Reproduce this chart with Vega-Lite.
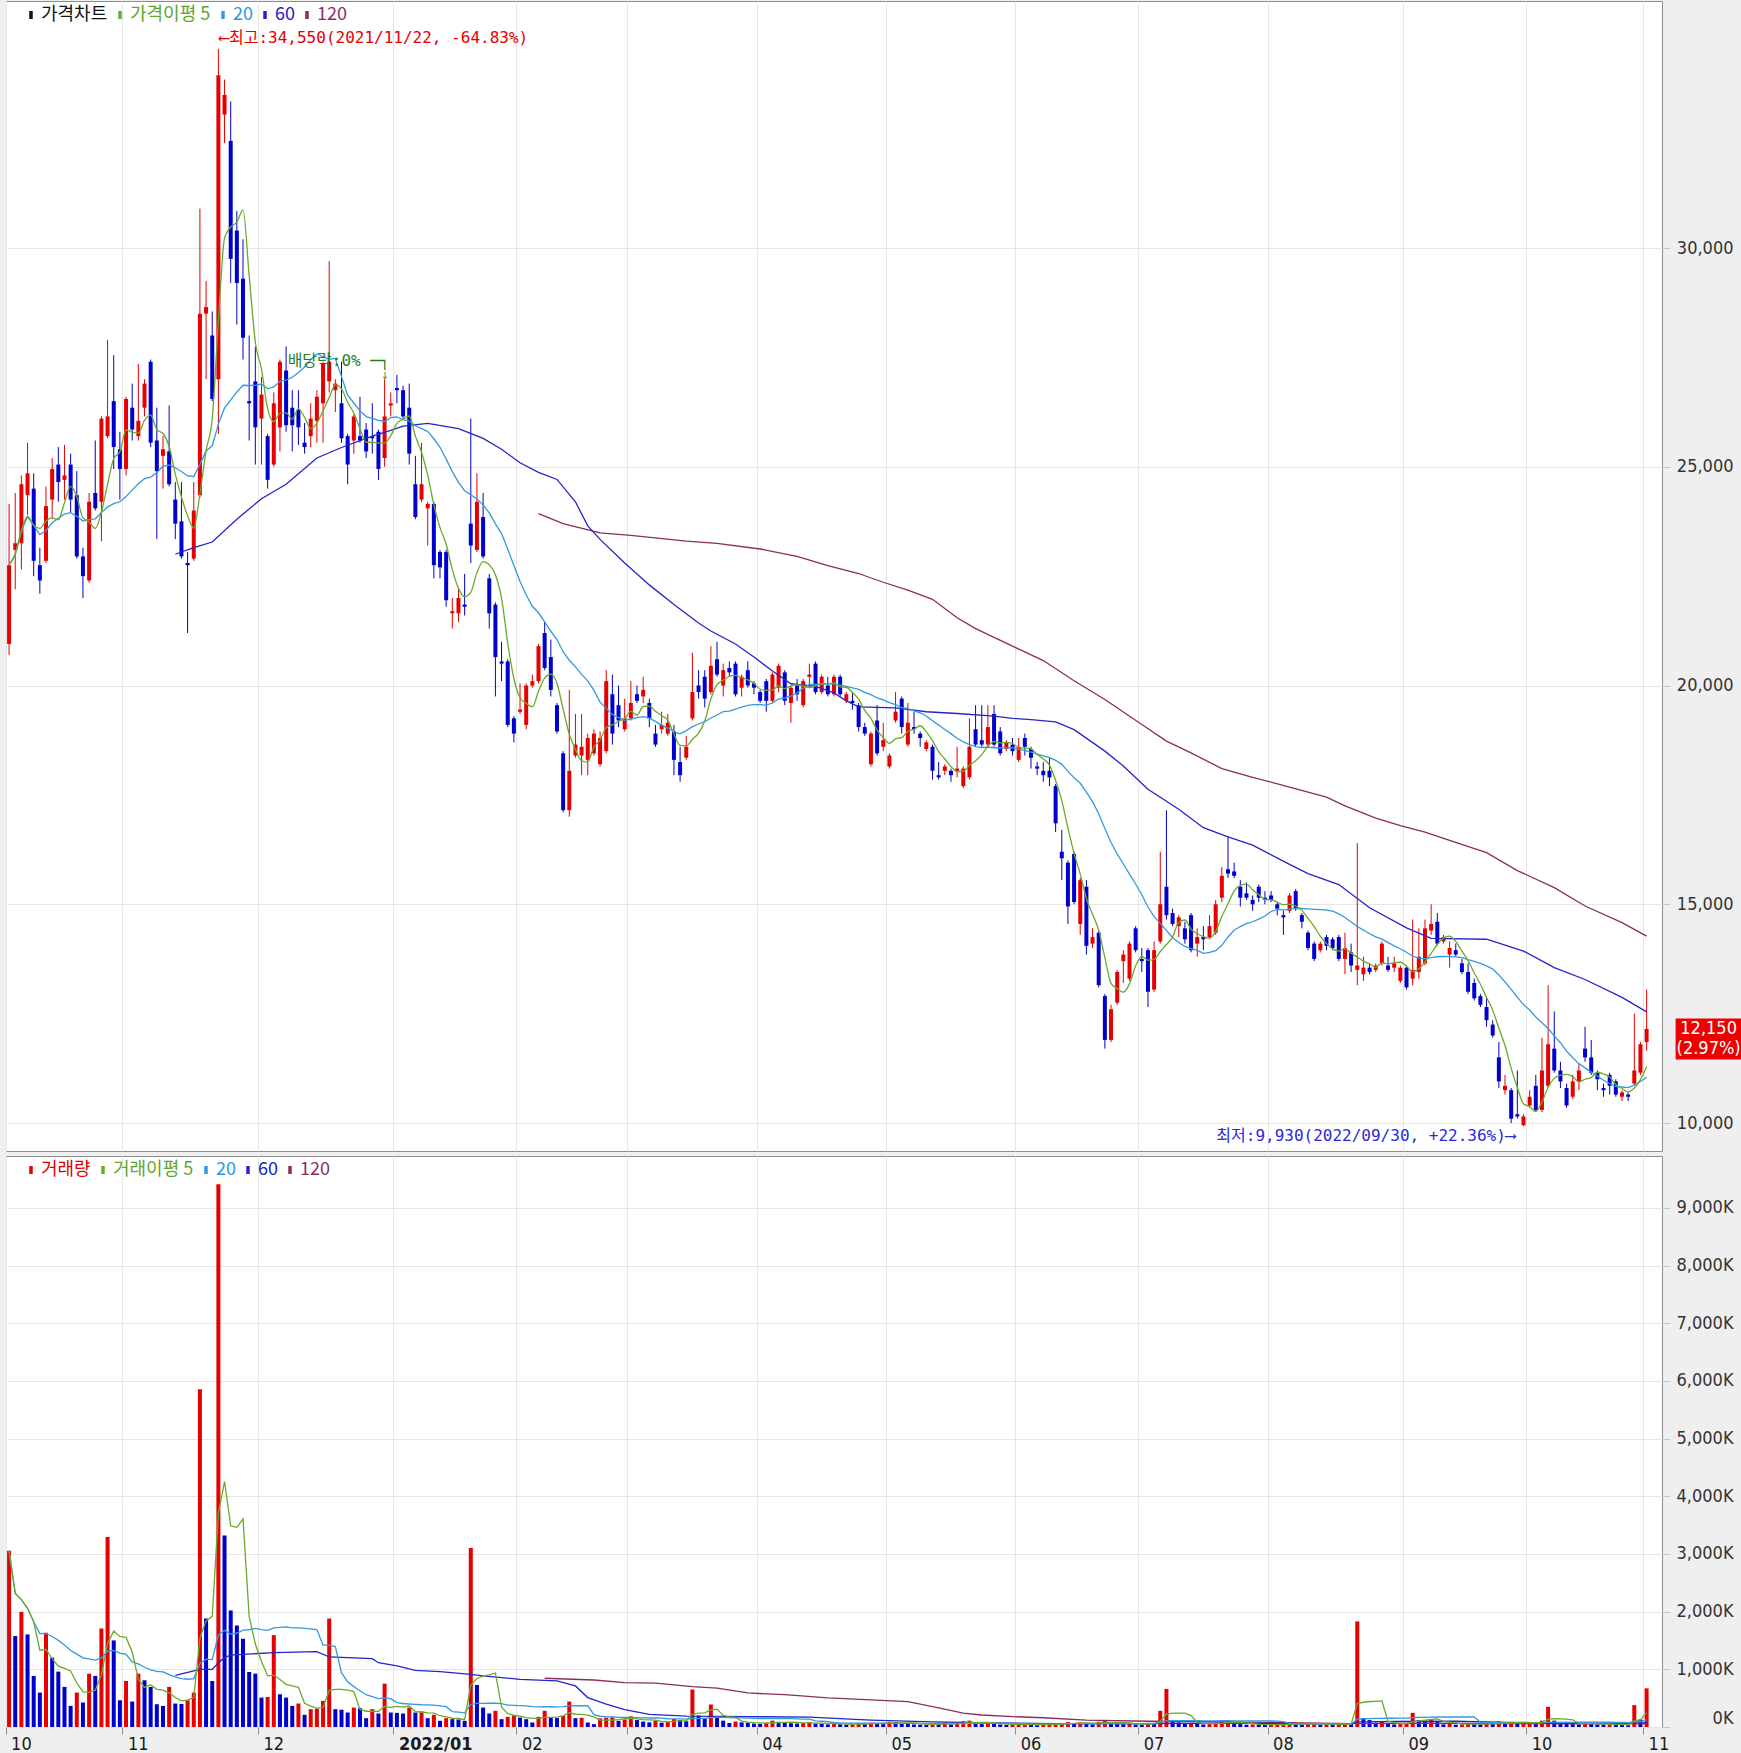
{
"$schema": "https://vega.github.io/schema/vega-lite/v6.json",
"background": "#efefef",
"padding": {"left": 5, "top": 0, "right": 10, "bottom": 0},
"spacing": 3,
"config": {
  "view": {"fill": "#ffffff", "stroke": "#8c8c8c", "strokeWidth": 1},
  "font": "Liberation Sans"
},
"datasets": {
"k": [
{"d":"2021-10-01","o":20950,"h":24150,"l":20700,"c":22750,"v":3056000},
{"d":"2021-10-05","o":23100,"h":24400,"l":22200,"c":23250,"v":1576000},
{"d":"2021-10-06","o":23250,"h":24800,"l":22650,"c":24600,"v":1997000},
{"d":"2021-10-07","o":24350,"h":25550,"l":23900,"c":24850,"v":1605000},
{"d":"2021-10-08","o":24500,"h":24850,"l":22500,"c":22850,"v":885000},
{"d":"2021-10-12","o":22750,"h":23150,"l":22100,"c":22400,"v":597000},
{"d":"2021-10-13","o":22850,"h":24550,"l":22800,"c":24100,"v":1634000},
{"d":"2021-10-14","o":24250,"h":25200,"l":23800,"c":24950,"v":1202000},
{"d":"2021-10-15","o":25050,"h":25450,"l":24200,"c":24650,"v":960000},
{"d":"2021-10-18","o":24700,"h":25500,"l":24250,"c":24800,"v":695000},
{"d":"2021-10-19","o":25050,"h":25300,"l":23950,"c":24250,"v":366000},
{"d":"2021-10-20","o":24350,"h":24900,"l":22900,"c":22950,"v":597000},
{"d":"2021-10-21","o":22950,"h":23150,"l":22000,"c":22500,"v":424000},
{"d":"2021-10-22","o":22400,"h":24400,"l":22350,"c":24200,"v":925000},
{"d":"2021-10-25","o":24400,"h":25600,"l":24000,"c":24050,"v":885000},
{"d":"2021-10-26","o":24200,"h":26150,"l":23300,"c":26100,"v":1708000},
{"d":"2021-10-27","o":25700,"h":27900,"l":25650,"c":26150,"v":3293000},
{"d":"2021-10-28","o":26500,"h":27550,"l":24950,"c":25450,"v":1501000},
{"d":"2021-10-29","o":25400,"h":25800,"l":24250,"c":24950,"v":464000},
{"d":"2021-11-01","o":24950,"h":26600,"l":24800,"c":26550,"v":798000},
{"d":"2021-11-02","o":26350,"h":26900,"l":25600,"c":25850,"v":441000},
{"d":"2021-11-03","o":25700,"h":27350,"l":25600,"c":26050,"v":925000},
{"d":"2021-11-04","o":26350,"h":27000,"l":26150,"c":26900,"v":810000},
{"d":"2021-11-05","o":27400,"h":27450,"l":25450,"c":25550,"v":695000},
{"d":"2021-11-08","o":25600,"h":26350,"l":23350,"c":24900,"v":395000},
{"d":"2021-11-09","o":25250,"h":25700,"l":24500,"c":25400,"v":366000},
{"d":"2021-11-10","o":25350,"h":26400,"l":24550,"c":24600,"v":695000},
{"d":"2021-11-11","o":24250,"h":24650,"l":23350,"c":23700,"v":407000},
{"d":"2021-11-12","o":23750,"h":24650,"l":22900,"c":22950,"v":400000},
{"d":"2021-11-15","o":22800,"h":23050,"l":21200,"c":22750,"v":464000},
{"d":"2021-11-16","o":22900,"h":24650,"l":22850,"c":24000,"v":597000},
{"d":"2021-11-17","o":24350,"h":30900,"l":24300,"c":28500,"v":5856000},
{"d":"2021-11-18","o":28500,"h":29250,"l":27000,"c":28650,"v":1881000},
{"d":"2021-11-19","o":28000,"h":28550,"l":26500,"c":26550,"v":798000},
{"d":"2021-11-22","o":27000,"h":34550,"l":25750,"c":33950,"v":9410000},
{"d":"2021-11-23","o":33050,"h":33850,"l":32400,"c":33500,"v":3321000},
{"d":"2021-11-24","o":32450,"h":33350,"l":29200,"c":29750,"v":2021000},
{"d":"2021-11-25","o":30400,"h":30850,"l":28250,"c":29200,"v":1760000},
{"d":"2021-11-26","o":29300,"h":30200,"l":27450,"c":27950,"v":1530000},
{"d":"2021-11-29","o":26500,"h":28000,"l":25600,"c":26450,"v":954000},
{"d":"2021-11-30","o":26950,"h":27750,"l":25050,"c":25900,"v":925000},
{"d":"2021-12-01","o":26100,"h":27050,"l":25050,"c":26650,"v":510000},
{"d":"2021-12-02","o":25700,"h":25750,"l":24500,"c":24700,"v":520000},
{"d":"2021-12-03","o":25050,"h":26700,"l":25000,"c":26450,"v":1593000},
{"d":"2021-12-06","o":25900,"h":27450,"l":25350,"c":27400,"v":568000},
{"d":"2021-12-07","o":27200,"h":27750,"l":25800,"c":25950,"v":510000},
{"d":"2021-12-08","o":26350,"h":26750,"l":25350,"c":25950,"v":366000},
{"d":"2021-12-09","o":26300,"h":26750,"l":25500,"c":25900,"v":407000},
{"d":"2021-12-10","o":25550,"h":26000,"l":25300,"c":25450,"v":211000},
{"d":"2021-12-13","o":25700,"h":26450,"l":25450,"c":26100,"v":309000},
{"d":"2021-12-14","o":26050,"h":26750,"l":25550,"c":26600,"v":315000},
{"d":"2021-12-15","o":26450,"h":27400,"l":25550,"c":27350,"v":453000},
{"d":"2021-12-16","o":26950,"h":29700,"l":26700,"c":27400,"v":1881000},
{"d":"2021-12-17","o":26750,"h":27000,"l":26250,"c":26900,"v":309000},
{"d":"2021-12-20","o":26450,"h":27400,"l":25550,"c":25650,"v":300000},
{"d":"2021-12-21","o":25700,"h":25750,"l":24600,"c":25050,"v":251000},
{"d":"2021-12-22","o":25600,"h":26200,"l":25300,"c":26150,"v":337000},
{"d":"2021-12-23","o":25700,"h":26600,"l":25550,"c":25600,"v":326000},
{"d":"2021-12-24","o":25850,"h":26000,"l":25200,"c":25350,"v":153000},
{"d":"2021-12-27","o":25700,"h":26450,"l":25300,"c":25650,"v":309000},
{"d":"2021-12-28","o":25800,"h":25850,"l":24700,"c":24950,"v":234000},
{"d":"2021-12-29","o":25200,"h":27000,"l":25000,"c":26150,"v":752000},
{"d":"2021-12-30","o":26400,"h":26700,"l":26150,"c":26450,"v":251000},
{"d":"2022-01-03","o":26800,"h":27100,"l":26450,"c":26750,"v":245000},
{"d":"2022-01-04","o":26750,"h":26850,"l":26100,"c":26150,"v":234000},
{"d":"2022-01-05","o":26350,"h":26900,"l":25050,"c":25300,"v":337000},
{"d":"2022-01-06","o":24600,"h":25250,"l":23800,"c":23850,"v":251000},
{"d":"2022-01-07","o":24250,"h":25550,"l":24200,"c":24600,"v":255000},
{"d":"2022-01-10","o":24050,"h":24200,"l":23200,"c":24150,"v":153000},
{"d":"2022-01-11","o":24150,"h":24200,"l":22450,"c":22750,"v":211000},
{"d":"2022-01-12","o":23050,"h":23100,"l":22450,"c":22700,"v":107000},
{"d":"2022-01-13","o":23050,"h":23100,"l":21800,"c":21950,"v":153000},
{"d":"2022-01-14","o":21650,"h":22000,"l":21300,"c":21700,"v":136000},
{"d":"2022-01-17","o":21650,"h":22200,"l":21450,"c":22000,"v":130000},
{"d":"2022-01-18","o":21850,"h":22550,"l":21600,"c":21800,"v":107000},
{"d":"2022-01-19","o":23700,"h":26100,"l":22800,"c":23200,"v":3103000},
{"d":"2022-01-20","o":23100,"h":24850,"l":23050,"c":24200,"v":729000},
{"d":"2022-01-21","o":23850,"h":24400,"l":22900,"c":22950,"v":337000},
{"d":"2022-01-24","o":22450,"h":22550,"l":21300,"c":21650,"v":234000},
{"d":"2022-01-25","o":21850,"h":21900,"l":19750,"c":20650,"v":280000},
{"d":"2022-01-26","o":20550,"h":21000,"l":20100,"c":20500,"v":136000},
{"d":"2022-01-27","o":20550,"h":20600,"l":19050,"c":19100,"v":176000},
{"d":"2022-01-28","o":19250,"h":19300,"l":18700,"c":18900,"v":193000},
{"d":"2022-02-03","o":19400,"h":20050,"l":19350,"c":19450,"v":164000},
{"d":"2022-02-04","o":19100,"h":20050,"l":19000,"c":20000,"v":136000},
{"d":"2022-02-07","o":20000,"h":20250,"l":19950,"c":20100,"v":78000},
{"d":"2022-02-08","o":20100,"h":20950,"l":20050,"c":20900,"v":176000},
{"d":"2022-02-09","o":21200,"h":21450,"l":20350,"c":20400,"v":280000},
{"d":"2022-02-10","o":20650,"h":21050,"l":19750,"c":19900,"v":164000},
{"d":"2022-02-11","o":19550,"h":19600,"l":18900,"c":18950,"v":155000},
{"d":"2022-02-14","o":18450,"h":18500,"l":17100,"c":17150,"v":193000},
{"d":"2022-02-15","o":17150,"h":19900,"l":17000,"c":18050,"v":441000},
{"d":"2022-02-16","o":18400,"h":19350,"l":18350,"c":18650,"v":153000},
{"d":"2022-02-17","o":18400,"h":19350,"l":17950,"c":18600,"v":160000},
{"d":"2022-02-18","o":18300,"h":18900,"l":17950,"c":18800,"v":78000},
{"d":"2022-02-21","o":18450,"h":19000,"l":18400,"c":18900,"v":49000},
{"d":"2022-02-22","o":18200,"h":18950,"l":18150,"c":18800,"v":150000},
{"d":"2022-02-23","o":18500,"h":20350,"l":18450,"c":20100,"v":160000},
{"d":"2022-02-24","o":19800,"h":20250,"l":18650,"c":18900,"v":170000},
{"d":"2022-02-25","o":19550,"h":20000,"l":19050,"c":19200,"v":107000},
{"d":"2022-02-28","o":19000,"h":19700,"l":18950,"c":19250,"v":130000},
{"d":"2022-03-02","o":19250,"h":20100,"l":19200,"c":19600,"v":185000},
{"d":"2022-03-03","o":19800,"h":20000,"l":19600,"c":19650,"v":120000},
{"d":"2022-03-04","o":19750,"h":20200,"l":19600,"c":19900,"v":95000},
{"d":"2022-03-07","o":19600,"h":19700,"l":19050,"c":19250,"v":80000},
{"d":"2022-03-08","o":18900,"h":19100,"l":18600,"c":18650,"v":110000},
{"d":"2022-03-10","o":19000,"h":19400,"l":18900,"c":19100,"v":75000},
{"d":"2022-03-11","o":18900,"h":19350,"l":18850,"c":19150,"v":90000},
{"d":"2022-03-14","o":18950,"h":19100,"l":17950,"c":18300,"v":140000},
{"d":"2022-03-15","o":18250,"h":18600,"l":17800,"c":17950,"v":120000},
{"d":"2022-03-16","o":18350,"h":18850,"l":18300,"c":18600,"v":100000},
{"d":"2022-03-17","o":19250,"h":20750,"l":19200,"c":19850,"v":650000},
{"d":"2022-03-18","o":20000,"h":20350,"l":19700,"c":19850,"v":200000},
{"d":"2022-03-21","o":20200,"h":20350,"l":19500,"c":19700,"v":150000},
{"d":"2022-03-22","o":19850,"h":20900,"l":19800,"c":20450,"v":390000},
{"d":"2022-03-23","o":20600,"h":21000,"l":20200,"c":20250,"v":160000},
{"d":"2022-03-24","o":20000,"h":20500,"l":19750,"c":20350,"v":110000},
{"d":"2022-03-25","o":20400,"h":20550,"l":20200,"c":20300,"v":70000},
{"d":"2022-03-28","o":20500,"h":20550,"l":19750,"c":19800,"v":95000},
{"d":"2022-03-29","o":19950,"h":20250,"l":19750,"c":20200,"v":80000},
{"d":"2022-03-30","o":20350,"h":20550,"l":19950,"c":20000,"v":75000},
{"d":"2022-03-31","o":20050,"h":20100,"l":19800,"c":19950,"v":60000},
{"d":"2022-04-01","o":19850,"h":19900,"l":19600,"c":19650,"v":55000},
{"d":"2022-04-04","o":20100,"h":20150,"l":19400,"c":19650,"v":70000},
{"d":"2022-04-05","o":19650,"h":20300,"l":19600,"c":20250,"v":110000},
{"d":"2022-04-06","o":19950,"h":20500,"l":19850,"c":20450,"v":90000},
{"d":"2022-04-07","o":20300,"h":20350,"l":19550,"c":19650,"v":80000},
{"d":"2022-04-08","o":19600,"h":20000,"l":19150,"c":19950,"v":65000},
{"d":"2022-04-11","o":20000,"h":20150,"l":19650,"c":19800,"v":60000},
{"d":"2022-04-12","o":19550,"h":20150,"l":19500,"c":20100,"v":70000},
{"d":"2022-04-13","o":20200,"h":20500,"l":19950,"c":20250,"v":85000},
{"d":"2022-04-14","o":20500,"h":20550,"l":19800,"c":19850,"v":60000},
{"d":"2022-04-15","o":19850,"h":20250,"l":19800,"c":20200,"v":55000},
{"d":"2022-04-18","o":20000,"h":20200,"l":19750,"c":19800,"v":45000},
{"d":"2022-04-19","o":19800,"h":20250,"l":19750,"c":20200,"v":60000},
{"d":"2022-04-20","o":20200,"h":20250,"l":19750,"c":19800,"v":50000},
{"d":"2022-04-21","o":19650,"h":19850,"l":19600,"c":19800,"v":40000},
{"d":"2022-04-22","o":19650,"h":19850,"l":19450,"c":19600,"v":45000},
{"d":"2022-04-25","o":19550,"h":19600,"l":18950,"c":19050,"v":70000},
{"d":"2022-04-26","o":19050,"h":19150,"l":18850,"c":18900,"v":55000},
{"d":"2022-04-27","o":18200,"h":18950,"l":18150,"c":18900,"v":75000},
{"d":"2022-04-28","o":19200,"h":19550,"l":18400,"c":18450,"v":60000},
{"d":"2022-04-29","o":18600,"h":19150,"l":18500,"c":18750,"v":50000},
{"d":"2022-05-02","o":18150,"h":18450,"l":18100,"c":18400,"v":90000},
{"d":"2022-05-03","o":19200,"h":19850,"l":19150,"c":19400,"v":85000},
{"d":"2022-05-04","o":19700,"h":19750,"l":18900,"c":19050,"v":70000},
{"d":"2022-05-06","o":18650,"h":19600,"l":18600,"c":19150,"v":60000},
{"d":"2022-05-09","o":19050,"h":19400,"l":18900,"c":19000,"v":45000},
{"d":"2022-05-10","o":18900,"h":18950,"l":18600,"c":18800,"v":40000},
{"d":"2022-05-11","o":18550,"h":18750,"l":18500,"c":18700,"v":35000},
{"d":"2022-05-12","o":18600,"h":18650,"l":17850,"c":18050,"v":60000},
{"d":"2022-05-13","o":17950,"h":18250,"l":17850,"c":17900,"v":50000},
{"d":"2022-05-16","o":18050,"h":18200,"l":17950,"c":18150,"v":80000},
{"d":"2022-05-17","o":18050,"h":18100,"l":17800,"c":17950,"v":45000},
{"d":"2022-05-18","o":18050,"h":18600,"l":17900,"c":18100,"v":55000},
{"d":"2022-05-19","o":17700,"h":18150,"l":17650,"c":18100,"v":100000},
{"d":"2022-05-20","o":17900,"h":19250,"l":17850,"c":18600,"v":110000},
{"d":"2022-05-23","o":19000,"h":19550,"l":18600,"c":18650,"v":75000},
{"d":"2022-05-24","o":18750,"h":19550,"l":18600,"c":18650,"v":50000},
{"d":"2022-05-25","o":18650,"h":19550,"l":18600,"c":19050,"v":60000},
{"d":"2022-05-26","o":19350,"h":19550,"l":18600,"c":18650,"v":55000},
{"d":"2022-05-27","o":18950,"h":19050,"l":18400,"c":18450,"v":45000},
{"d":"2022-05-30","o":18550,"h":18750,"l":18500,"c":18700,"v":35000},
{"d":"2022-05-31","o":18650,"h":18800,"l":18400,"c":18500,"v":40000},
{"d":"2022-06-02","o":18300,"h":18800,"l":18250,"c":18600,"v":45000},
{"d":"2022-06-03","o":18800,"h":18900,"l":18400,"c":18600,"v":50000},
{"d":"2022-06-07","o":18550,"h":18600,"l":18100,"c":18350,"v":35000},
{"d":"2022-06-08","o":18150,"h":18250,"l":17950,"c":18100,"v":30000},
{"d":"2022-06-09","o":18050,"h":18250,"l":17800,"c":17950,"v":40000},
{"d":"2022-06-10","o":18050,"h":18350,"l":17700,"c":17900,"v":45000},
{"d":"2022-06-13","o":17700,"h":17750,"l":16650,"c":16850,"v":60000},
{"d":"2022-06-14","o":16200,"h":16700,"l":15550,"c":16050,"v":70000},
{"d":"2022-06-15","o":15950,"h":16000,"l":14550,"c":14950,"v":85000},
{"d":"2022-06-16","o":16150,"h":16200,"l":15000,"c":15050,"v":60000},
{"d":"2022-06-17","o":14550,"h":15600,"l":14300,"c":15550,"v":80000},
{"d":"2022-06-20","o":15400,"h":15550,"l":13850,"c":14050,"v":70000},
{"d":"2022-06-21","o":14100,"h":14450,"l":14000,"c":14250,"v":45000},
{"d":"2022-06-22","o":14350,"h":14400,"l":13100,"c":13150,"v":90000},
{"d":"2022-06-23","o":12900,"h":12950,"l":11700,"c":11900,"v":110000},
{"d":"2022-06-24","o":11900,"h":12700,"l":11850,"c":12600,"v":70000},
{"d":"2022-06-27","o":12750,"h":13500,"l":12700,"c":13450,"v":55000},
{"d":"2022-06-28","o":13700,"h":13950,"l":13200,"c":13850,"v":50000},
{"d":"2022-06-29","o":13300,"h":14150,"l":13250,"c":14100,"v":60000},
{"d":"2022-06-30","o":14450,"h":14500,"l":13900,"c":13950,"v":45000},
{"d":"2022-07-01","o":13750,"h":14000,"l":13450,"c":13700,"v":40000},
{"d":"2022-07-04","o":13950,"h":14000,"l":12650,"c":13000,"v":70000},
{"d":"2022-07-05","o":13050,"h":14150,"l":13000,"c":13950,"v":65000},
{"d":"2022-07-06","o":14150,"h":16200,"l":14100,"c":15000,"v":280000},
{"d":"2022-07-07","o":15400,"h":17150,"l":14650,"c":14750,"v":660000},
{"d":"2022-07-08","o":14800,"h":14900,"l":14500,"c":14550,"v":120000},
{"d":"2022-07-11","o":14500,"h":14750,"l":14250,"c":14700,"v":80000},
{"d":"2022-07-12","o":14450,"h":14600,"l":14100,"c":14200,"v":65000},
{"d":"2022-07-13","o":14750,"h":14800,"l":13900,"c":13950,"v":70000},
{"d":"2022-07-14","o":14100,"h":14450,"l":13800,"c":14250,"v":55000},
{"d":"2022-07-15","o":14250,"h":14500,"l":13950,"c":14200,"v":45000},
{"d":"2022-07-18","o":14250,"h":14750,"l":14200,"c":14500,"v":50000},
{"d":"2022-07-19","o":14350,"h":15100,"l":14300,"c":15000,"v":75000},
{"d":"2022-07-20","o":15150,"h":15850,"l":15050,"c":15650,"v":95000},
{"d":"2022-07-21","o":15800,"h":16550,"l":15600,"c":15700,"v":110000},
{"d":"2022-07-22","o":15750,"h":15950,"l":15600,"c":15650,"v":60000},
{"d":"2022-07-25","o":15400,"h":15550,"l":14950,"c":15150,"v":50000},
{"d":"2022-07-26","o":15250,"h":15500,"l":15100,"c":15150,"v":40000},
{"d":"2022-07-27","o":15100,"h":15200,"l":14850,"c":15000,"v":45000},
{"d":"2022-07-28","o":15400,"h":15450,"l":15050,"c":15150,"v":40000},
{"d":"2022-07-29","o":15150,"h":15300,"l":15000,"c":15100,"v":35000},
{"d":"2022-08-01","o":15200,"h":15300,"l":15050,"c":15100,"v":40000},
{"d":"2022-08-02","o":15000,"h":15050,"l":14750,"c":14900,"v":45000},
{"d":"2022-08-03","o":14750,"h":14850,"l":14300,"c":14700,"v":50000},
{"d":"2022-08-04","o":14850,"h":15250,"l":14800,"c":15200,"v":60000},
{"d":"2022-08-05","o":15300,"h":15350,"l":14850,"c":14900,"v":55000},
{"d":"2022-08-08","o":14750,"h":14800,"l":14450,"c":14600,"v":45000},
{"d":"2022-08-09","o":14350,"h":14400,"l":13950,"c":14000,"v":60000},
{"d":"2022-08-10","o":14100,"h":14150,"l":13700,"c":13750,"v":70000},
{"d":"2022-08-11","o":13950,"h":14150,"l":13900,"c":14100,"v":40000},
{"d":"2022-08-12","o":14250,"h":14300,"l":13950,"c":14050,"v":45000},
{"d":"2022-08-16","o":14200,"h":14250,"l":13950,"c":14000,"v":40000},
{"d":"2022-08-17","o":14250,"h":14300,"l":13700,"c":13750,"v":55000},
{"d":"2022-08-18","o":13750,"h":14350,"l":13400,"c":14000,"v":60000},
{"d":"2022-08-19","o":13900,"h":14100,"l":13450,"c":13600,"v":50000},
{"d":"2022-08-22","o":13500,"h":16400,"l":13150,"c":13600,"v":1830000},
{"d":"2022-08-23","o":13400,"h":13800,"l":13250,"c":13550,"v":150000},
{"d":"2022-08-24","o":13550,"h":13650,"l":13400,"c":13450,"v":120000},
{"d":"2022-08-25","o":13500,"h":13650,"l":13450,"c":13600,"v":75000},
{"d":"2022-08-26","o":13650,"h":14150,"l":13600,"c":14100,"v":90000},
{"d":"2022-08-29","o":13600,"h":13800,"l":13450,"c":13500,"v":55000},
{"d":"2022-08-30","o":13550,"h":13800,"l":13450,"c":13650,"v":45000},
{"d":"2022-08-31","o":13250,"h":13600,"l":13200,"c":13550,"v":50000},
{"d":"2022-09-01","o":13550,"h":13600,"l":13050,"c":13100,"v":60000},
{"d":"2022-09-02","o":13300,"h":14650,"l":13150,"c":13500,"v":245000},
{"d":"2022-09-05","o":13450,"h":14450,"l":13300,"c":13800,"v":120000},
{"d":"2022-09-06","o":13650,"h":14650,"l":13600,"c":14450,"v":110000},
{"d":"2022-09-07","o":14400,"h":15000,"l":14300,"c":14550,"v":130000},
{"d":"2022-09-08","o":14600,"h":14800,"l":14050,"c":14100,"v":90000},
{"d":"2022-09-13","o":14150,"h":14300,"l":14100,"c":14250,"v":45000},
{"d":"2022-09-14","o":13850,"h":14150,"l":13550,"c":14000,"v":55000},
{"d":"2022-09-15","o":13950,"h":14100,"l":13800,"c":13850,"v":40000},
{"d":"2022-09-16","o":13650,"h":13750,"l":13400,"c":13450,"v":45000},
{"d":"2022-09-19","o":13450,"h":13650,"l":12950,"c":13000,"v":60000},
{"d":"2022-09-20","o":13200,"h":13300,"l":12800,"c":12850,"v":55000},
{"d":"2022-09-21","o":12900,"h":12950,"l":12650,"c":12700,"v":45000},
{"d":"2022-09-22","o":12650,"h":12850,"l":12200,"c":12350,"v":60000},
{"d":"2022-09-23","o":12250,"h":12350,"l":11950,"c":12000,"v":55000},
{"d":"2022-09-26","o":11500,"h":11850,"l":10800,"c":10950,"v":100000},
{"d":"2022-09-27","o":10750,"h":11100,"l":10650,"c":10850,"v":70000},
{"d":"2022-09-28","o":10750,"h":10800,"l":10000,"c":10100,"v":85000},
{"d":"2022-09-29","o":10200,"h":11200,"l":10100,"c":10150,"v":60000},
{"d":"2022-09-30","o":9950,"h":10200,"l":9930,"c":10150,"v":75000},
{"d":"2022-10-04","o":10400,"h":10750,"l":10350,"c":10600,"v":80000},
{"d":"2022-10-05","o":10850,"h":11100,"l":10250,"c":10300,"v":70000},
{"d":"2022-10-06","o":10300,"h":11950,"l":10250,"c":11200,"v":110000},
{"d":"2022-10-07","o":10850,"h":13150,"l":10800,"c":11800,"v":350000},
{"d":"2022-10-11","o":11700,"h":12550,"l":11150,"c":11200,"v":110000},
{"d":"2022-10-12","o":11200,"h":11400,"l":10800,"c":10950,"v":60000},
{"d":"2022-10-13","o":10800,"h":10900,"l":10350,"c":10400,"v":55000},
{"d":"2022-10-14","o":10600,"h":11100,"l":10550,"c":10950,"v":50000},
{"d":"2022-10-17","o":10950,"h":11350,"l":10750,"c":11200,"v":45000},
{"d":"2022-10-18","o":11700,"h":12200,"l":11400,"c":11500,"v":80000},
{"d":"2022-10-19","o":11500,"h":11900,"l":11100,"c":11150,"v":60000},
{"d":"2022-10-20","o":11150,"h":11200,"l":10750,"c":11000,"v":45000},
{"d":"2022-10-21","o":10800,"h":10900,"l":10600,"c":10750,"v":40000},
{"d":"2022-10-24","o":11100,"h":11150,"l":10650,"c":10850,"v":45000},
{"d":"2022-10-25","o":10950,"h":11000,"l":10600,"c":10650,"v":40000},
{"d":"2022-10-26","o":10600,"h":10750,"l":10500,"c":10700,"v":35000},
{"d":"2022-10-27","o":10650,"h":10700,"l":10500,"c":10600,"v":30000},
{"d":"2022-10-28","o":10900,"h":12500,"l":10850,"c":11200,"v":380000},
{"d":"2022-10-31","o":11150,"h":11850,"l":11100,"c":11800,"v":130000},
{"d":"2022-11-01","o":11850,"h":13050,"l":11650,"c":12150,"v":670000}
],
"pm60": [
{"d":"2021-11-11","v":23000},{"d":"2021-11-16","v":23150},{"d":"2021-11-19","v":23280},{"d":"2021-11-25","v":23800},
{"d":"2021-12-01","v":24270},{"d":"2021-12-07","v":24600},{"d":"2021-12-14","v":25200},{"d":"2021-12-20","v":25440},
{"d":"2021-12-27","v":25700},{"d":"2021-12-30","v":25830},{"d":"2022-01-04","v":25930},{"d":"2022-01-10","v":25990},
{"d":"2022-01-17","v":25870},{"d":"2022-01-21","v":25650},{"d":"2022-01-26","v":25400},{"d":"2022-02-03","v":25090},
{"d":"2022-02-08","v":24870},{"d":"2022-02-11","v":24710},{"d":"2022-02-16","v":24200},{"d":"2022-02-18","v":23650},
{"d":"2022-02-22","v":23340},{"d":"2022-02-28","v":22800},{"d":"2022-03-07","v":22300},{"d":"2022-03-14","v":21850},
{"d":"2022-03-18","v":21430},{"d":"2022-03-22","v":21245},{"d":"2022-03-28","v":20950},{"d":"2022-03-31","v":20650},
{"d":"2022-04-05","v":20330},{"d":"2022-04-08","v":20040},{"d":"2022-04-14","v":19980},{"d":"2022-04-19","v":19830},
{"d":"2022-04-21","v":19650},{"d":"2022-04-25","v":19510},{"d":"2022-05-03","v":19490},{"d":"2022-05-11","v":19400},
{"d":"2022-05-18","v":19360},{"d":"2022-05-26","v":19300},{"d":"2022-05-31","v":19250},{"d":"2022-06-07","v":19220},
{"d":"2022-06-13","v":19170},{"d":"2022-06-16","v":18990},{"d":"2022-06-23","v":18500},{"d":"2022-06-28","v":18160},
{"d":"2022-07-04","v":17630},{"d":"2022-07-11","v":17170},{"d":"2022-07-15","v":16750},{"d":"2022-07-21","v":16540},
{"d":"2022-07-27","v":16350},{"d":"2022-08-04","v":15910},{"d":"2022-08-09","v":15700},{"d":"2022-08-17","v":15450},
{"d":"2022-08-24","v":14920},{"d":"2022-09-01","v":14460},{"d":"2022-09-07","v":14220},{"d":"2022-09-22","v":14200},
{"d":"2022-09-30","v":13930},{"d":"2022-10-11","v":13550},{"d":"2022-10-18","v":13280},{"d":"2022-10-26","v":12870},
{"d":"2022-11-01","v":12540}
],
"pm120": [
{"d":"2022-02-08","v":23930},{"d":"2022-02-14","v":23700},{"d":"2022-02-22","v":23490},{"d":"2022-03-02","v":23430},
{"d":"2022-03-16","v":23300},{"d":"2022-03-23","v":23250},{"d":"2022-04-01","v":23120},{"d":"2022-04-11","v":22950},
{"d":"2022-04-18","v":22740},{"d":"2022-04-25","v":22560},{"d":"2022-04-29","v":22360},{"d":"2022-05-06","v":22180},
{"d":"2022-05-12","v":21970},{"d":"2022-05-18","v":21550},{"d":"2022-05-23","v":21300},{"d":"2022-05-31","v":20900},
{"d":"2022-06-09","v":20570},{"d":"2022-06-16","v":20110},{"d":"2022-06-23","v":19680},{"d":"2022-07-01","v":19110},
{"d":"2022-07-07","v":18730},{"d":"2022-07-13","v":18460},{"d":"2022-07-20","v":18100},{"d":"2022-07-27","v":17900},
{"d":"2022-08-04","v":17680},{"d":"2022-08-12","v":17450},{"d":"2022-08-18","v":17250},{"d":"2022-08-25","v":16970},
{"d":"2022-08-31","v":16800},{"d":"2022-09-06","v":16650},{"d":"2022-09-14","v":16460},{"d":"2022-09-22","v":16180},
{"d":"2022-09-29","v":15770},{"d":"2022-10-11","v":15380},{"d":"2022-10-18","v":14960},{"d":"2022-10-26","v":14580},
{"d":"2022-11-01","v":14270}
],
"vm60": [
{"d":"2021-11-11","v":897000},{"d":"2021-11-17","v":1000000},{"d":"2021-11-19","v":1000000},{"d":"2021-11-22","v":1115000},
{"d":"2021-11-23","v":1202000},{"d":"2021-11-24","v":1248000},{"d":"2021-12-03","v":1289000},{"d":"2021-12-14","v":1306000},
{"d":"2021-12-16","v":1214000},{"d":"2021-12-27","v":1185000},{"d":"2021-12-28","v":1115000},{"d":"2022-01-03","v":1058000},
{"d":"2022-01-06","v":983000},{"d":"2022-01-12","v":960000},{"d":"2022-01-19","v":914000},{"d":"2022-01-21","v":885000},
{"d":"2022-02-03","v":827000},{"d":"2022-02-11","v":798000},{"d":"2022-02-16","v":712000},{"d":"2022-02-18","v":510000},
{"d":"2022-02-23","v":395000},{"d":"2022-02-28","v":300000},{"d":"2022-03-07","v":220000},{"d":"2022-03-16","v":190000},
{"d":"2022-03-30","v":180000},{"d":"2022-04-13","v":170000},{"d":"2022-04-27","v":120000},{"d":"2022-05-12","v":90000},
{"d":"2022-05-26","v":70000},{"d":"2022-06-13","v":60000},{"d":"2022-07-04","v":60000},{"d":"2022-07-18","v":65000},
{"d":"2022-08-08","v":60000},{"d":"2022-08-19","v":60000},{"d":"2022-08-22","v":90000},{"d":"2022-08-30","v":95000},
{"d":"2022-09-15","v":100000},{"d":"2022-09-29","v":75000},{"d":"2022-10-17","v":65000},{"d":"2022-11-01","v":70000}
],
"vm120": [
{"d":"2022-02-09","v":845000},{"d":"2022-02-21","v":815000},{"d":"2022-02-28","v":770000},{"d":"2022-03-08","v":760000},
{"d":"2022-03-17","v":700000},{"d":"2022-03-23","v":675000},{"d":"2022-03-30","v":590000},{"d":"2022-04-07","v":560000},
{"d":"2022-04-18","v":504000},{"d":"2022-04-27","v":470000},{"d":"2022-05-06","v":440000},{"d":"2022-05-13","v":330000},
{"d":"2022-05-19","v":240000},{"d":"2022-05-24","v":208000},{"d":"2022-05-31","v":180000},{"d":"2022-06-09","v":160000},
{"d":"2022-06-20","v":120000},{"d":"2022-07-04","v":100000},{"d":"2022-07-18","v":92000},{"d":"2022-08-01","v":80000},
{"d":"2022-08-19","v":60000},{"d":"2022-09-06","v":62000},{"d":"2022-09-29","v":58000},{"d":"2022-11-01","v":55000}
],
"ann": [
{"d":"2021-11-22","p":34550,"t":"⟵최고:34,550(2021/11/22, -64.83%)","k":"hi"},
{"d":"2022-09-30","p":9930,"t":"최저:9,930(2022/09/30, +22.36%)⟶","k":"lo"},
{"d":"2021-12-29","p":27000,"t":"배당락:0% ─┐","k":"div"},
{"d":"2022-11-01","p":12150,"t":"12,150\n(2.97%)","k":"last"}
]
},
"resolve": {"scale": {"x": "independent", "color": "independent"}, "axis": {"x": "independent"}, "legend": {"color": "independent"}},
"vconcat": [
{
  "width": 1656,
  "height": 1150,
  "data": {"name": "k"},
  "encoding": {
    "x": {"field": "d", "type": "ordinal",
      "scale": {"type": "band", "paddingInner": 0, "paddingOuter": 1.286, "align": 0},
      "axis": {"values": ["2021-10-01","2021-11-01","2021-12-01","2022-01-03","2022-02-03","2022-03-02","2022-04-01","2022-05-02","2022-06-02","2022-07-01","2022-08-01","2022-09-01","2022-10-04","2022-11-01"],
        "bandPosition": 0, "grid": true, "gridColor": "#e6e6e6", "labels": false, "ticks": false, "domain": false, "title": null}}
  },
  "layer": [
    {"mark": {"type": "rule", "strokeWidth": 1},
     "encoding": {
       "y": {"field": "l", "type": "quantitative",
         "scale": {"domain": [9360, 35646], "nice": false, "zero": false},
         "axis": {"orient": "right", "values": [10000, 15000, 20000, 25000, 30000], "format": ",.0f", "grid": true, "gridColor": "#e6e6e6",
           "domain": false, "tickSize": 8, "tickColor": "#c8c8c8", "labelAlign": "right", "labelPadding": 63,
           "labelFont": "Liberation Sans Narrow, DejaVu Sans Condensed, Liberation Sans", "labelFontSize": 18, "labelColor": "#333333", "title": null}},
       "y2": {"field": "h"},
       "color": {"condition": {"test": "datum.c >= datum.o", "value": "#e60000"}, "value": "#0000cc"}}},
    {"mark": {"type": "bar", "width": 4},
     "encoding": {
       "y": {"field": "o", "type": "quantitative"},
       "y2": {"field": "c"},
       "color": {"condition": {"test": "datum.c >= datum.o", "value": "#e60000"}, "value": "#0000cc"}}},
    {"data": {"name": "pm120"},
     "mark": {"type": "line", "strokeWidth": 1.3},
     "encoding": {"y": {"field": "v", "type": "quantitative"}, "color": {"datum": "120", "type": "nominal"}}},
    {"data": {"name": "pm60"},
     "mark": {"type": "line", "strokeWidth": 1.3},
     "encoding": {"y": {"field": "v", "type": "quantitative"}, "color": {"datum": "60", "type": "nominal"}}},
    {"transform": [{"window": [{"op": "mean", "field": "c", "as": "ma20"}], "frame": [-19, 0], "sort": [{"field": "d"}]}],
     "mark": {"type": "line", "strokeWidth": 1.3},
     "encoding": {"y": {"field": "ma20", "type": "quantitative"}, "color": {"datum": "20", "type": "nominal"}}},
    {"transform": [{"window": [{"op": "mean", "field": "c", "as": "ma5"}], "frame": [-4, 0], "sort": [{"field": "d"}]}],
     "mark": {"type": "line", "strokeWidth": 1.3, "interpolate": "monotone"},
     "encoding": {"y": {"field": "ma5", "type": "quantitative"},
       "color": {"datum": "가격이평 5", "type": "nominal",
         "scale": {"domain": ["가격차트", "가격이평 5", "20", "60", "120"], "range": ["#111111", "#6aaa2a", "#3399e0", "#2424c8", "#8a2d5e"]},
         "legend": {"orient": "none", "legendX": 16, "legendY": 5, "direction": "horizontal", "title": null,
           "symbolType": "M0,-1V1", "symbolSize": 64, "symbolStrokeWidth": 3.5, "columnPadding": 3, "labelOffset": 1,
           "labelFont": "Noto Sans CJK KR", "labelFontSize": 18, "labelLimit": 0, "padding": 0,
           "labelColor": {"expr": "datum.label == '가격차트' ? '#111111' : datum.label == '가격이평 5' ? '#5ea52a' : datum.label == '20' ? '#2f96e0' : datum.label == '60' ? '#2020c8' : '#883063'"}}}}},
    {"data": {"name": "ann"}, "transform": [{"filter": "datum.k == 'hi'"}],
     "mark": {"type": "text", "align": "left", "baseline": "middle", "dx": 1, "dy": -11, "font": "DejaVu Sans Mono, Noto Sans CJK KR", "fontSize": 16, "color": "#e60000"},
     "encoding": {"y": {"field": "p", "type": "quantitative"}, "text": {"field": "t"}}},
    {"data": {"name": "ann"}, "transform": [{"filter": "datum.k == 'lo'"}],
     "mark": {"type": "text", "align": "right", "baseline": "middle", "dx": -8, "dy": 10, "font": "DejaVu Sans Mono, Noto Sans CJK KR", "fontSize": 16, "color": "#2a2ad6"},
     "encoding": {"y": {"field": "p", "type": "quantitative"}, "text": {"field": "t"}}},
    {"data": {"name": "ann"}, "transform": [{"filter": "datum.k == 'div'"}],
     "mark": {"type": "text", "align": "right", "baseline": "middle", "dx": 5, "dy": -18, "font": "DejaVu Sans Mono, Noto Sans CJK KR", "fontSize": 16, "color": "#1f7f1f"},
     "encoding": {"y": {"field": "p", "type": "quantitative"}, "text": {"field": "t"}}},
    {"data": {"name": "ann"}, "transform": [{"filter": "datum.k == 'div'"}],
     "mark": {"type": "text", "align": "center", "baseline": "bottom", "dy": 2, "fontSize": 10, "font": "DejaVu Sans", "color": "#1f9a1f", "text": "↓"},
     "encoding": {"y": {"field": "p", "type": "quantitative"}}},
    {"data": {"name": "ann"}, "transform": [{"filter": "datum.k == 'last'"}],
     "mark": {"type": "point", "shape": "M-1,-0.62H1V0.62H-1Z", "size": 4356, "filled": true, "opacity": 1, "color": "#ee0000", "strokeWidth": 0, "xOffset": 62, "yOffset": 10},
     "encoding": {"y": {"field": "p", "type": "quantitative"}}},
    {"data": {"name": "ann"}, "transform": [{"filter": "datum.k == 'last'"}],
     "mark": {"type": "text", "align": "center", "baseline": "middle", "dx": 62, "dy": 0, "lineBreak": "\n", "lineHeight": 20,
       "font": "Liberation Sans Narrow, DejaVu Sans Condensed, Liberation Sans", "fontSize": 18, "color": "#ffffff"},
     "encoding": {"y": {"field": "p", "type": "quantitative"}, "text": {"field": "t"}}}
  ]
},
{
  "width": 1656,
  "height": 571,
  "data": {"name": "k"},
  "encoding": {
    "x": {"field": "d", "type": "ordinal",
      "scale": {"type": "band", "paddingInner": 0, "paddingOuter": 1.286, "align": 0},
      "axis": {"values": ["2021-10-01","2021-11-01","2021-12-01","2022-01-03","2022-02-03","2022-03-02","2022-04-01","2022-05-02","2022-06-02","2022-07-01","2022-08-01","2022-09-01","2022-10-04","2022-11-01"],
        "bandPosition": 0, "grid": true, "gridColor": "#e6e6e6", "domain": false, "ticks": true, "tickSize": 7, "tickColor": "#8a8a8a",
        "labelAngle": 0, "labelAlign": "left", "labelBaseline": "top", "labelOffset": 2, "labelPadding": 1, "labelOverlap": false,
        "labelFont": "Liberation Sans Narrow, DejaVu Sans Condensed, Liberation Sans", "labelFontSize": 18, "labelColor": "#1a1a1a",
        "labelExpr": "datum.value == '2022-01-03' ? '2022/01' : slice(datum.value, 5, 7)",
        "labelFontWeight": {"condition": {"test": "datum.value == '2022-01-03'", "value": "bold"}, "value": "normal"},
        "title": null}}
  },
  "layer": [
    {"transform": [{"window": [{"op": "lag", "field": "v", "as": "pv"}], "sort": [{"field": "d"}]}],
     "mark": {"type": "bar", "width": 4},
     "encoding": {
       "y": {"field": "v", "type": "quantitative",
         "scale": {"domain": [0, 9900000], "nice": false},
         "axis": {"orient": "right", "values": [0, 1000000, 2000000, 3000000, 4000000, 5000000, 6000000, 7000000, 8000000, 9000000],
           "labelExpr": "format(datum.value / 1000, ',') + 'K'", "labelFlush": true, "grid": true, "gridColor": "#e6e6e6",
           "domain": false, "tickSize": 8, "tickColor": "#c8c8c8", "labelAlign": "right", "labelPadding": 63,
           "labelFont": "Liberation Sans Narrow, DejaVu Sans Condensed, Liberation Sans", "labelFontSize": 18, "labelColor": "#333333", "title": null}},
       "color": {"condition": {"test": "datum.pv == null || datum.v >= datum.pv", "value": "#e60000"}, "value": "#0000cc"}}},
    {"data": {"name": "vm120"},
     "mark": {"type": "line", "strokeWidth": 1.3},
     "encoding": {"y": {"field": "v", "type": "quantitative"}, "color": {"datum": "120", "type": "nominal"}}},
    {"data": {"name": "vm60"},
     "mark": {"type": "line", "strokeWidth": 1.3},
     "encoding": {"y": {"field": "v", "type": "quantitative"}, "color": {"datum": "60", "type": "nominal"}}},
    {"transform": [{"window": [{"op": "mean", "field": "v", "as": "vma20"}], "frame": [-19, 0], "sort": [{"field": "d"}]}],
     "mark": {"type": "line", "strokeWidth": 1.3},
     "encoding": {"y": {"field": "vma20", "type": "quantitative"}, "color": {"datum": "20", "type": "nominal"}}},
    {"transform": [{"window": [{"op": "mean", "field": "v", "as": "vma5"}], "frame": [-4, 0], "sort": [{"field": "d"}]}],
     "mark": {"type": "line", "strokeWidth": 1.3},
     "encoding": {"y": {"field": "vma5", "type": "quantitative"},
       "color": {"datum": "거래이평 5", "type": "nominal",
         "scale": {"domain": ["거래량", "거래이평 5", "20", "60", "120"], "range": ["#e60000", "#6aaa2a", "#3399e0", "#2424c8", "#8a2d5e"]},
         "legend": {"orient": "none", "legendX": 16, "legendY": 5, "direction": "horizontal", "title": null,
           "symbolType": "M0,-1V1", "symbolSize": 64, "symbolStrokeWidth": 3.5, "columnPadding": 3, "labelOffset": 1,
           "labelFont": "Noto Sans CJK KR", "labelFontSize": 18, "labelLimit": 0, "padding": 0,
           "labelColor": {"expr": "datum.label == '거래량' ? '#e00000' : datum.label == '거래이평 5' ? '#5ea52a' : datum.label == '20' ? '#2f96e0' : datum.label == '60' ? '#2020c8' : '#883063'"}}}}}
  ]
}
]
}
